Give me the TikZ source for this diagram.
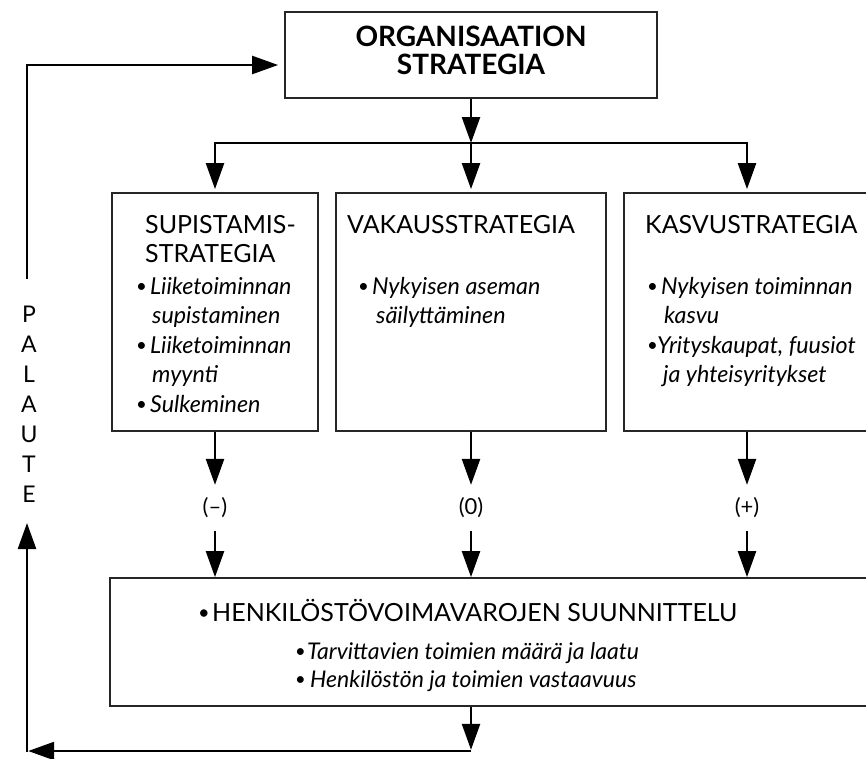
\documentclass[tikz,border=0pt]{standalone}
\usepackage{graphicx}
\usepackage{fontspec}
\setmainfont{Lato}
\usetikzlibrary{arrows.meta, positioning}
\tikzset{
	box/.style={draw=black!85, line width=1.8pt, inner sep=0pt},
	head/.style={font=\fontsize{25}{29.5}\selectfont, align=left, inner sep=0pt, anchor=north west},
	items/.style={font=\fontsize{23.3}{29.5}\selectfont\itshape, align=left, inner sep=0pt, anchor=north west},
	sign/.style={font=\fontsize{22}{24}\selectfont, inner sep=0pt, outer sep=13pt},
	line/.style={draw, line width=2.4pt, -{Triangle[length=26pt, width=18pt]}}
}
\newcommand{\itembul}[1][14pt]{\makebox[#1][l]{\upshape\raisebox{1.5pt}{\scalebox{0.8}{\textbullet}}}\ignorespaces}
\newcommand{\itemind}[1][16pt]{\hspace*{#1}\ignorespaces}

\begin{document}
\begin{tikzpicture}[x=1pt, y=-1pt]
	\useasboundingbox (0,0) rectangle (866,758);
	% Boxes
	\node[box, minimum width=372pt, minimum height=86pt, align=center, text depth=9pt,
		font=\fontsize{28}{28}\selectfont\bfseries] (org) at (471,55) {ORGANISAATION\\STRATEGIA};
	\node[box, minimum width=206pt, minimum height=238pt] (sup) at (215,312) {};
	\node[box, minimum width=270pt, minimum height=238pt] (vak) at (471,312) {};
	\node[box, minimum width=246pt, minimum height=238pt] (kas) at (747,312) {};
	\node[box, minimum width=760pt, minimum height=128pt] (hen) at (490,642) {};
	
	% Texts in the boxes
	\node[head] (sup-title) at (145,215) {SUPISTAMIS-\\STRATEGIA};
	\node[items] (sup-items) at (136,277) {\itembul Liiketoiminnan\\\itemind supistaminen\\\itembul Liiketoiminnan\\\itemind myynti\\\itembul Sulkeminen};
	\node[head] (vak-title) at (347,215) {VAKAUSSTRATEGIA};
	\node[items] (vak-items) at (358,277) {\itembul Nykyisen aseman\\\itemind[18pt] säilyttäminen};
	\node[head] (kas-title) at (645,215) {KASVUSTRATEGIA};
	\node[items] (kas-items) at (647,277) {\itembul Nykyisen toiminnan\\\itemind[17pt] kasvu\\\itembul[10pt] Yrityskaupat, fuusiot\\\itemind ja yhteisyritykset};
	\node[head] (hen-title) at (198,599) {\itembul HENKILÖSTÖVOIMAVAROJEN SUUNNITTELU};
	\node[items, font=\fontsize{23}{28}\selectfont\itshape] (hen-items) at (295,642) {\itembul[12pt] Tarvittavien toimien määrä ja laatu\\\itembul[15pt] Henkilöstön ja toimien vastaavuus};
	
	% Signs
	\node[sign] (neg) at (215,508) {(--)};
	\node[sign] (zero) at (471,508) {(0)};
	\node[sign] (pos) at (747,508) {(+)};
	\node[font=\fontsize{23}{30}\selectfont, align=center, inner sep=0pt] (palaute) at (29,404) {P\\A\\L\\A\\U\\T\\E};
	
	% Connections
	\coordinate (split) at (471,143);
	\draw[line] (org) -- (split);
	\draw[line, shorten >=3pt] (split) -| (sup);
	\draw[line, shorten >=3pt] (split) -- (vak);
	\draw[line, shorten >=3pt] (split) -| (kas);
	\foreach \s/\b in {neg/sup, zero/vak, pos/kas} {
		\draw[line] (\b) -- (\s);
		\draw[line] (\s) -- (\s |- hen.north);
	}
	
	% Feedback
	\coordinate (ret) at (471,751);
	\coordinate (ret-l) at (27,751);
	\coordinate (fb-up) at (27,523);
	\coordinate (fb-top) at (27,279);
	\draw[line, shorten >=1.2pt] (vak |- hen.south) -- (ret);
	\draw[line, shorten >=1.2pt] (ret) -- (ret-l);
	\draw[line, shorten <=-1.2pt] (ret-l) -- (fb-up);
	\draw[line, shorten >=6pt] (fb-top) |- ([yshift=-10pt]org.west);
\end{tikzpicture}
\end{document}
